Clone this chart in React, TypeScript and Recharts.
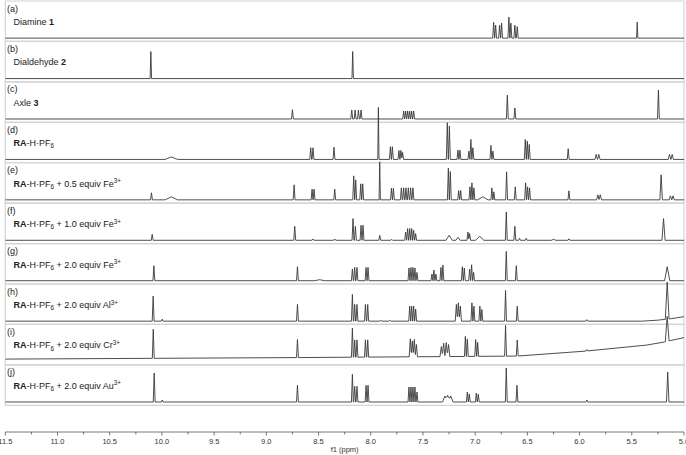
import React from 'react';
import { LineChart, Line, XAxis, YAxis, ReferenceArea } from 'recharts';

type Peak = [number, number, number?];
type BasePt = [number, number];

// ---- axis ----
const PPM_LEFT = 11.5;
const PPM_RIGHT = 5.0;
const MAJOR_TICKS = [11.5, 11.0, 10.5, 10.0, 9.5, 9.0, 8.5, 8.0, 7.5, 7.0, 6.5, 6.0, 5.5, 5.0];
const MINOR_TICKS = [11.25, 10.75, 10.25, 9.75, 9.25, 8.75, 8.25, 7.75, 7.25, 6.75, 6.25, 5.75, 5.25];
const AXIS_TITLE = 'f1 (ppm)';

// ---- panel labels ----
const PANEL_TAGS = ['(a)', '(b)', '(c)', '(d)', '(e)', '(f)', '(g)', '(h)', '(i)', '(j)'];
const SIMPLE_NAMES = ['Diamine ', 'Dialdehyde ', 'Axle '];
const SIMPLE_NUMBERS = ['1', '2', '3'];
const EQUIVS = ['', '0.5', '1.0', '2.0', '2.0', '2.0', '2.0'];
const METALS = ['', 'Fe', 'Fe', 'Fe', 'Al', 'Cr', 'Au'];

// ---- spectra: [ppm, intensity, half width (ppm)] ----
const PEAKS_A: Peak[] = [
  [6.823, 15.7], [6.804, 13], [6.766, 13], [6.747, 15], [6.677, 21], [6.658, 15],
  [6.62, 13], [6.597, 11.5], [5.448, 16, 0.006],
];
const PEAKS_B: Peak[] = [[10.106, 27, 0.007], [8.173, 27, 0.007]];
const PEAKS_C: Peak[] = [
  [8.75, 9.3], [8.182, 9], [8.15, 9], [8.118, 9], [8.093, 9],
  [7.685, 8], [7.666, 8], [7.647, 8], [7.628, 8], [7.609, 8], [7.589, 8],
  [6.692, 24], [6.62, 11], [5.245, 29],
];
const PEAKS_D: Peak[] = [
  [9.91, 2.5, 0.06], [8.575, 11.7], [8.553, 11.7], [8.352, 12.3], [7.927, 52, 0.006],
  [7.812, 12.7], [7.793, 12.7], [7.73, 9], [7.711, 9], [7.695, 7],
  [7.267, 36.7], [7.247, 33.3], [7.165, 9.3], [7.146, 9.3],
  [7.06, 8.3], [7.041, 20], [7.022, 11.7], [6.849, 14], [6.83, 8.3],
  [6.52, 20], [6.501, 18.3], [6.482, 15], [6.109, 10.7],
  [5.841, 5, 0.012], [5.816, 5, 0.012], [5.139, 5, 0.012], [5.113, 5, 0.012],
];
const PEAKS_E: Peak[] = [
  [10.1, 7], [9.91, 3, 0.06], [8.734, 15], [8.562, 10.7], [8.543, 10.7], [8.345, 10.7],
  [8.163, 24], [8.144, 20], [8.096, 16], [8.077, 16], [7.914, 38, 0.006],
  [7.802, 11.7], [7.783, 11.7], [7.707, 12], [7.685, 12], [7.663, 12], [7.64, 12], [7.618, 12], [7.596, 12],
  [7.257, 31.7], [7.238, 28.3], [7.158, 9.3], [7.139, 9.3],
  [7.05, 13], [7.031, 17], [7.012, 12], [6.926, 3, 0.05], [6.84, 12], [6.821, 8],
  [6.699, 28], [6.616, 13], [6.517, 17], [6.498, 13], [6.479, 12], [6.102, 9],
  [5.825, 5, 0.012], [5.802, 5, 0.012], [5.219, 25, 0.012], [5.13, 4, 0.012], [5.105, 4, 0.012],
];
const PEAKS_F: Peak[] = [
  [10.093, 6], [8.728, 14], [8.553, 1.3], [8.345, 1.3],
  [8.17, 21.7], [8.147, 14], [8.093, 15], [8.074, 15], [7.914, 5], [7.8, 1],
  [7.666, 8.3], [7.647, 11.7], [7.627, 11.7], [7.608, 11.7], [7.589, 10], [7.57, 6.7],
  [7.249, 5, 0.03], [7.165, 3, 0.02], [7.069, 8.3], [7.053, 6.7], [6.957, 4, 0.04],
  [6.702, 28.3], [6.62, 14], [6.575, 2], [6.511, 2], [6.249, 1, 0.02], [6.102, 1.5],
  [5.196, 21.7, 0.015],
];
const PEAKS_G: Peak[] = [
  [10.077, 15], [8.702, 14], [8.49, 1, 0.05],
  [8.176, 11.7], [8.154, 13.3], [8.132, 13.3], [8.045, 13.3], [8.026, 13.3],
  [7.634, 12.7], [7.615, 13.3], [7.596, 13.3], [7.577, 12.7], [7.557, 8.3],
  [7.414, 6.7], [7.395, 10.7], [7.376, 6.7], [7.328, 13.3], [7.309, 15.7],
  [7.123, 14], [7.104, 12.7], [7.053, 11.7], [7.034, 16], [7.015, 8.3],
  [6.702, 29.3], [6.606, 15], [5.161, 14, 0.025],
];
const PEAKS_H: Peak[] = [
  [10.084, 25], [9.997, 2], [8.702, 16.7],
  [8.176, 26.7], [8.154, 16.7], [8.132, 16.7], [8.051, 16.7], [8.029, 16.7],
  [7.905, 1], [7.819, 1],
  [7.627, 15], [7.608, 15], [7.589, 15], [7.57, 12],
  [7.18, 16.7, 0.011], [7.161, 18.3, 0.011], [7.142, 15, 0.011],
  [7.031, 18.3], [7.012, 15], [6.955, 15], [6.936, 11.7],
  [6.709, 30.7], [6.597, 15], [5.931, 1.5], [5.161, 37, 0.018],
];
const PEAKS_I: Peak[] = [
  [10.083, 29], [8.702, 18],
  [8.176, 29], [8.154, 17.3], [8.132, 17.3], [8.051, 17.3], [8.029, 17.3],
  [7.621, 18, 0.011], [7.602, 15.7, 0.011], [7.583, 17.3, 0.011], [7.563, 12.3, 0.011],
  [7.324, 10, 0.013], [7.302, 13.3, 0.013], [7.277, 14, 0.013], [7.255, 12, 0.013],
  [7.094, 20], [7.075, 17.3], [6.995, 16.7], [6.976, 14],
  [6.709, 30.7], [6.597, 16], [5.931, 1.5], [5.161, 25, 0.018],
];
const PEAKS_J: Peak[] = [
  [10.074, 29], [9.997, 2], [8.702, 16.7],
  [8.176, 27.7], [8.154, 15.7], [8.132, 15.7], [8.045, 16.7], [8.026, 16.7],
  [7.634, 15], [7.615, 15], [7.596, 15], [7.577, 15], [7.557, 10],
  [7.29, 6, 0.022], [7.263, 6.7, 0.022], [7.234, 6, 0.022],
  [7.075, 10], [7.056, 8], [6.989, 9], [6.97, 7.7],
  [6.702, 34], [6.6, 16.7], [5.931, 2], [5.156, 30, 0.012],
];

// ---- baselines: [ppm, offset] ----
const BASE_FLAT: BasePt[] = [[11.5, 0], [5.0, 0]];
const BASE_H: BasePt[] = [[11.5, 0], [5.4, 0], [5.25, 1], [5.12, 2.5], [5.0, 4.5]];
const BASE_I: BasePt[] = [[11.5, 2.5], [8.7, 4], [6.6, 5.5], [5.94, 10.5], [5.36, 16.5], [5.19, 19.5], [5.13, 21], [5.0, 24]];

const SPECTRA = [PEAKS_A, PEAKS_B, PEAKS_C, PEAKS_D, PEAKS_E, PEAKS_F, PEAKS_G, PEAKS_H, PEAKS_I, PEAKS_J];
const BASELINES = [BASE_FLAT, BASE_FLAT, BASE_FLAT, BASE_FLAT, BASE_FLAT, BASE_FLAT, BASE_FLAT, BASE_H, BASE_I, BASE_FLAT];

// ---- layout ----
const W = 686;
const H = 455;
const MARGIN = { top: 1, right: 2, bottom: 0, left: 5.3 };
const X_AXIS_H = 23;
const Y_MIN = -0.66;
const Y_MAX = 10;
const N = 10;
const PANEL_PX = (H - MARGIN.top - MARGIN.bottom - X_AXIS_H) / (Y_MAX - Y_MIN);
const BASE_OFFSET = 3.3 / PANEL_PX;
const HW = 0.009;
const LINE_COLOR = '#3a3a3a';
const FONT = '"Liberation Sans", Arial, Helvetica, sans-serif';

function baselineAt(b: BasePt[], x: number): number {
  for (let i = 0; i < b.length - 1; i++) {
    const [x0, y0] = b[i];
    const [x1, y1] = b[i + 1];
    if (x <= x0 && x >= x1) return y0 + ((y1 - y0) * (x - x0)) / (x1 - x0);
  }
  return 0;
}

function buildSeries(peaks: Peak[], base: BasePt[], panel: number) {
  const xs = new Set<number>();
  base.forEach(([x]) => xs.add(x));
  peaks.forEach(([c, , w]) => {
    const hw = w ?? HW;
    xs.add(c);
    xs.add(+(c - hw).toFixed(5));
    xs.add(+(c + hw).toFixed(5));
  });
  const arr = [...xs].filter((x) => x <= PPM_LEFT && x >= PPM_RIGHT).sort((a, b) => b - a);
  return arr.map((x) => {
    let y = baselineAt(base, x);
    for (const [c, h, w] of peaks) {
      const hw = w ?? HW;
      const d = Math.abs(x - c);
      if (d < hw) y += h * (1 - d / hw);
    }
    return { x, y: panel + BASE_OFFSET + y / PANEL_PX };
  });
}

const SERIES = SPECTRA.map((p, k) => buildSeries(p, BASELINES[k], N - 1 - k));
const ALL_TICKS = [...MAJOR_TICKS, ...MINOR_TICKS].sort((a, b) => b - a);

const AxisTick = (props: any) => {
  const { x, y, payload } = props;
  const v = payload.value as number;
  const major = MAJOR_TICKS.includes(v);
  return (
    <g>
      <line x1={x} x2={x} y1={y} y2={y + (major ? 3.5 : 2.5)} stroke="#555" strokeWidth={0.8} />
      {major && (
        <text x={x} y={y + 11.5} textAnchor="middle" fontSize={7.5} fill="#333" fontFamily={FONT}>
          {v.toFixed(1)}
        </text>
      )}
    </g>
  );
};

function PanelLabel({ k }: { k: number }) {
  const top = MARGIN.top + k * PANEL_PX;
  const fs = 9;
  let body: React.ReactNode;
  if (k < 3) {
    body = (
      <>
        {SIMPLE_NAMES[k]}
        <tspan fontWeight="bold">{SIMPLE_NUMBERS[k]}</tspan>
      </>
    );
  } else {
    const j = k - 3;
    body = (
      <>
        <tspan fontWeight="bold">RA</tspan>
        <tspan>-H·PF</tspan>
        <tspan fontSize={6.3} dy={2.2}>6</tspan>
        {EQUIVS[j] !== '' && (
          <>
            <tspan dy={-2.2}>{` + ${EQUIVS[j]} equiv ${METALS[j]}`}</tspan>
            <tspan fontSize={6.3} dy={-3.4}>3+</tspan>
          </>
        )}
      </>
    );
  }
  return (
    <g>
      <text x={7} y={top + 10.5} fontSize={fs} fill="#222" fontFamily={FONT}>
        {PANEL_TAGS[k]}
      </text>
      <text x={13.5} y={top + 24} fontSize={fs} fill="#222" fontFamily={FONT}>
        {body}
      </text>
    </g>
  );
}

export default function App() {
  return (
    <div style={{ position: 'absolute', left: 0, top: 0, width: W, height: H, background: '#fff', fontFamily: FONT }}>
      <LineChart width={W} height={H} margin={MARGIN}>
        <XAxis
          dataKey="x"
          type="number"
          domain={[PPM_RIGHT, PPM_LEFT]}
          reversed
          ticks={ALL_TICKS}
          interval={0}
          tickSize={0}
          tickMargin={0}
          tickLine={false}
          tick={<AxisTick />}
          height={X_AXIS_H}
          allowDataOverflow
          axisLine={{ stroke: '#555', strokeWidth: 0.8 }}
          label={{ value: AXIS_TITLE, position: 'insideBottom', offset: 3, fontSize: 7.5, fill: '#333' }}
        />
        <YAxis hide type="number" domain={[Y_MIN, Y_MAX]} allowDataOverflow />
        {PANEL_TAGS.map((t, k) => (
          <ReferenceArea
            key={t}
            x1={PPM_LEFT}
            x2={PPM_RIGHT}
            y1={N - 1 - k}
            y2={N - k}
            fill="none"
            stroke="#d4d4d4"
            strokeWidth={1.2}
            ifOverflow="visible"
          />
        ))}
        {SERIES.map((d, k) => (
          <Line
            key={k}
            data={d}
            dataKey="y"
            type="linear"
            stroke={LINE_COLOR}
            strokeWidth={0.9}
            dot={false}
            activeDot={false}
            isAnimationActive={false}
          />
        ))}
      </LineChart>
      <svg width={W} height={H} style={{ position: 'absolute', left: 0, top: 0, pointerEvents: 'none' }}>
        {PANEL_TAGS.map((t, k) => (
          <PanelLabel key={t} k={k} />
        ))}
      </svg>
    </div>
  );
}
